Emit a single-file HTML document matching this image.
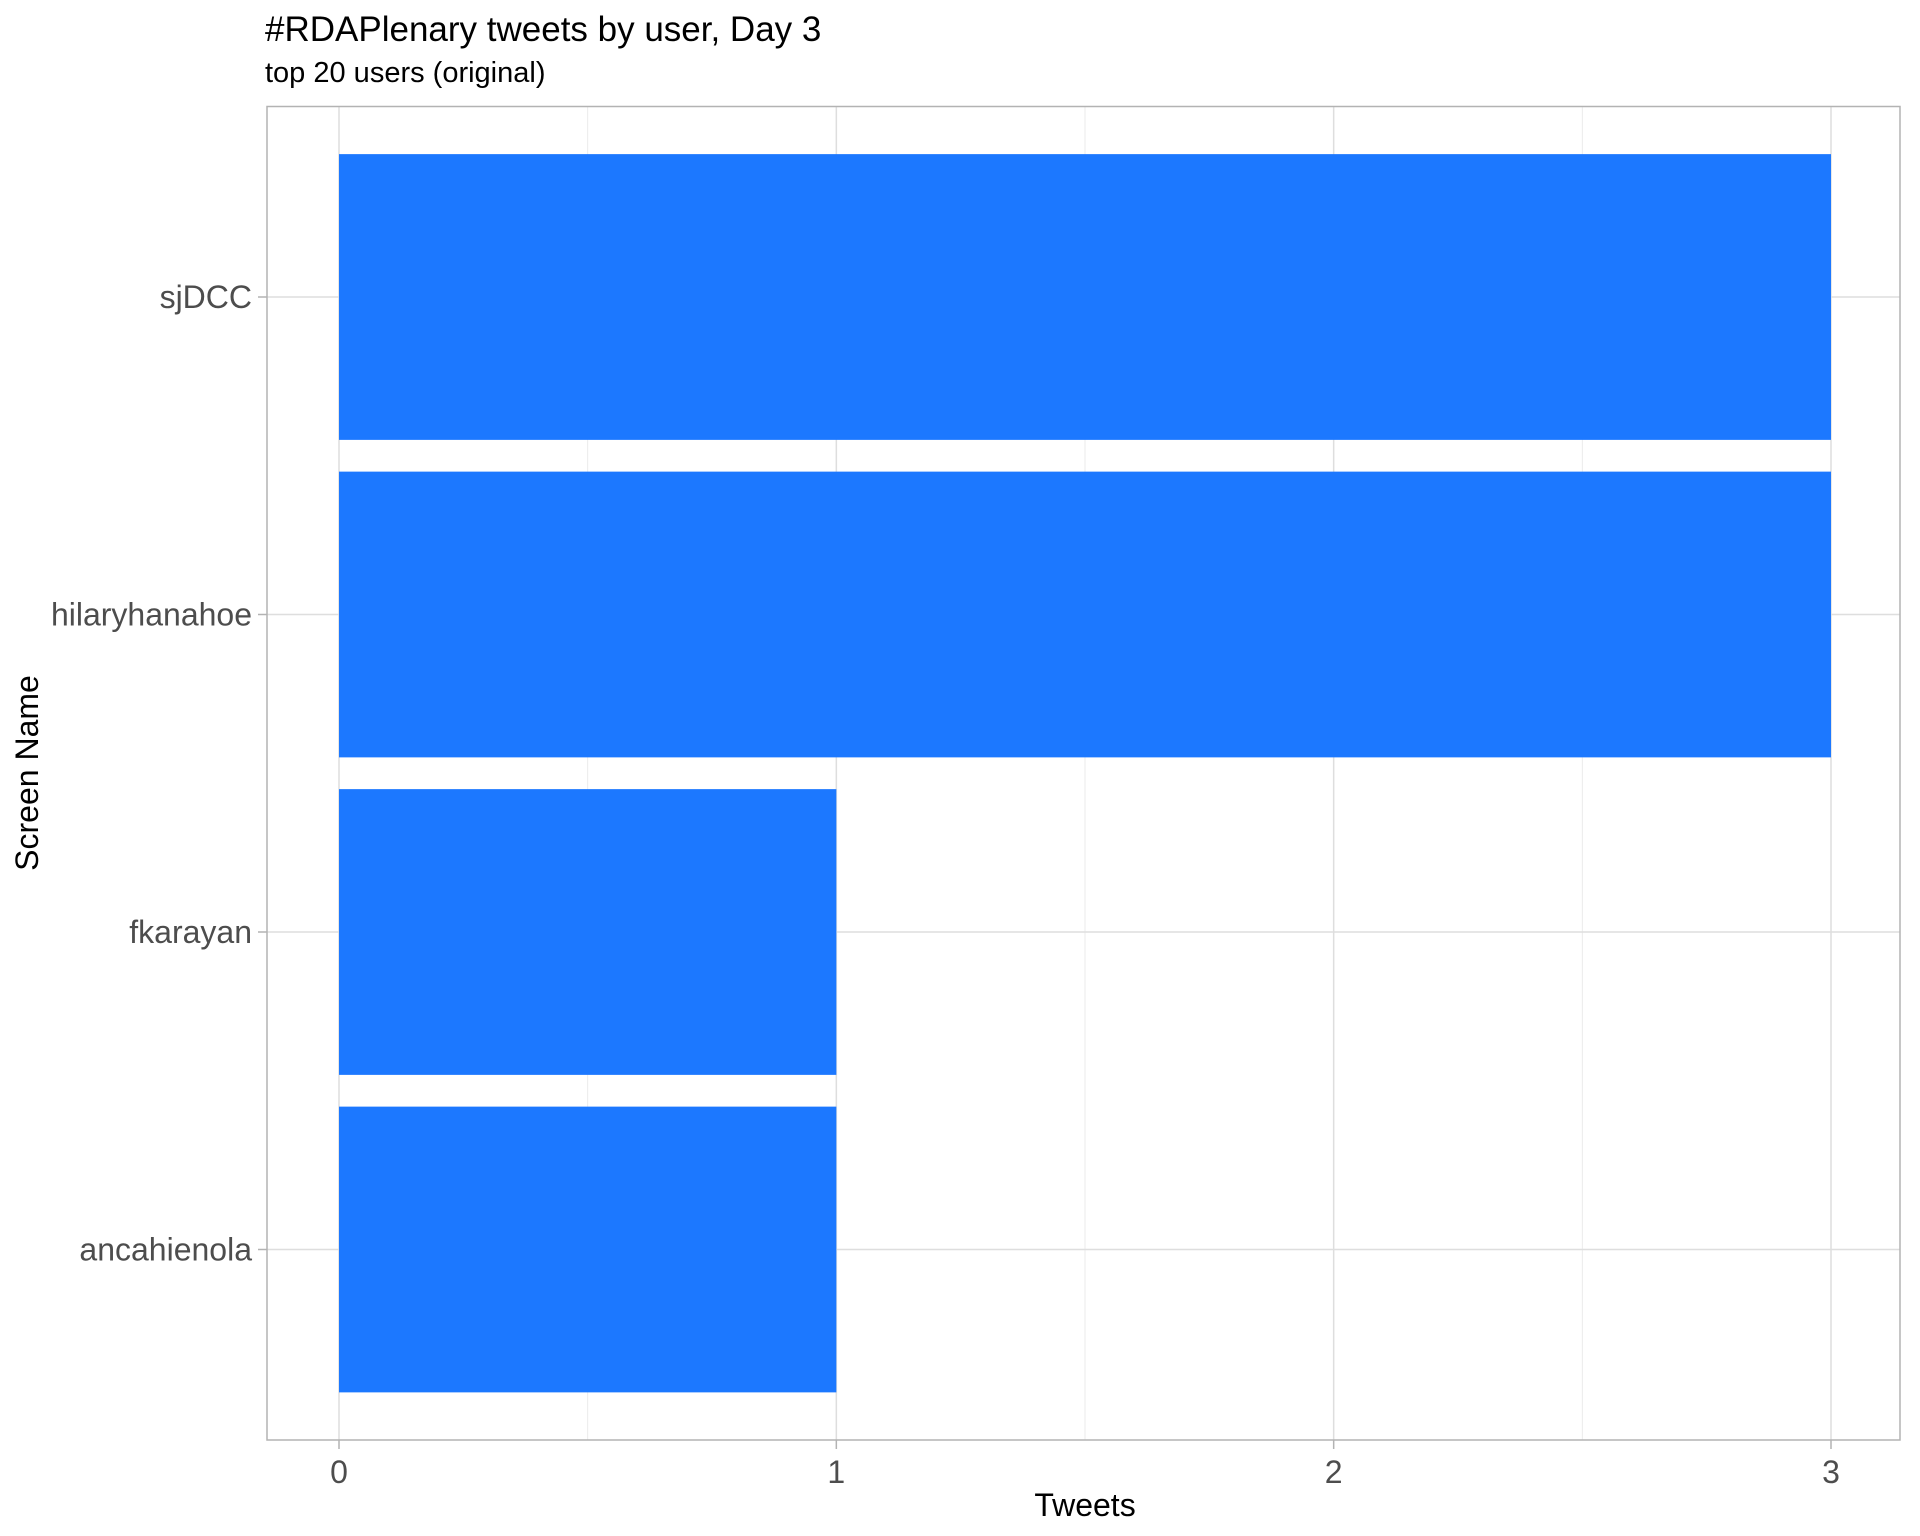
<!DOCTYPE html>
<html><head><meta charset="utf-8"><style>
html,body{margin:0;padding:0;background:#fff;}
svg{display:block;font-family:"Liberation Sans",Arial,sans-serif;}
</style></head><body>
<svg id="chart" width="1920" height="1536" viewBox="0 0 1920 1536" xmlns="http://www.w3.org/2000/svg">
<rect width="1920" height="1536" fill="#fff"/>
<text x="265" y="41" font-size="35" fill="#000">#RDAPlenary tweets by user, Day 3</text>
<text x="265" y="82" font-size="29" fill="#000">top 20 users (original)</text>
<g id="grid"></g>
<g id="bars"></g>
<rect x="267" y="106.5" width="1633" height="1333.5" fill="none" stroke="#b3b3b3" stroke-width="1.5"/>
<g id="axes"></g>
<text x="1085" y="1516" font-size="32" text-anchor="middle" fill="#000">Tweets</text>
<text transform="translate(38,773) rotate(-90)" font-size="32" text-anchor="middle" fill="#000">Screen Name</text>
</svg>
<script>
const categories = ["sjDCC","hilaryhanahoe","fkarayan","ancahienola"];
const tweets = [3,3,1,1];
const xTicks = [0,1,2,3];
const xTickLabels = ["0","1","2","3"];
const xMinor = [0.5,1.5,2.5];

const NS="http://www.w3.org/2000/svg";
const L=267,R=1900,T=106.5,B=1440;
const x0=339,x3=1831;
const xs=v=>x0+(x3-x0)*v/3;
const band=(B-T)/(categories.length+0.2);
const ys=i=>T+band*0.6+band*i;
function mk(tag,attrs,parent){const e=document.createElementNS(NS,tag);for(const k in attrs)e.setAttribute(k,attrs[k]);parent.appendChild(e);return e;}
const grid=document.getElementById('grid'),bars=document.getElementById('bars'),axes=document.getElementById('axes');
xMinor.forEach(v=>{const l=mk('line',{x1:xs(v),x2:xs(v),y1:T,y2:B,stroke:'#ebebeb','stroke-width':1},grid);

});
xTicks.forEach((v,i)=>{const l=mk('line',{x1:xs(v),x2:xs(v),y1:T,y2:B,stroke:'#dedede','stroke-width':1.5},grid);


const t=mk('line',{x1:xs(v),x2:xs(v),y1:B,y2:B+9,stroke:'#b3b3b3','stroke-width':1.5},axes);


const tx=mk('text',{x:xs(v),y:B+43,'font-size':32,'text-anchor':'middle',fill:'#4d4d4d'},axes);
tx.textContent=xTickLabels[i];

});
categories.forEach((c,i)=>{const y=ys(i);
const l=mk('line',{x1:L,x2:R,y1:y,y2:y,stroke:'#dedede','stroke-width':1.5},grid);


const h=band*0.9;
const r=mk('rect',{x:xs(0),y:y-h/2,width:xs(tweets[i])-xs(0),height:h,fill:'#1c78ff'},bars);


const t=mk('line',{x1:L-9,x2:L,y1:y,y2:y,stroke:'#b3b3b3','stroke-width':1.5},axes);


const tx=mk('text',{x:L-15,y:y+11,'font-size':32,'text-anchor':'end',fill:'#4d4d4d'},axes);
tx.textContent=c;

});
</script>
</body></html>
